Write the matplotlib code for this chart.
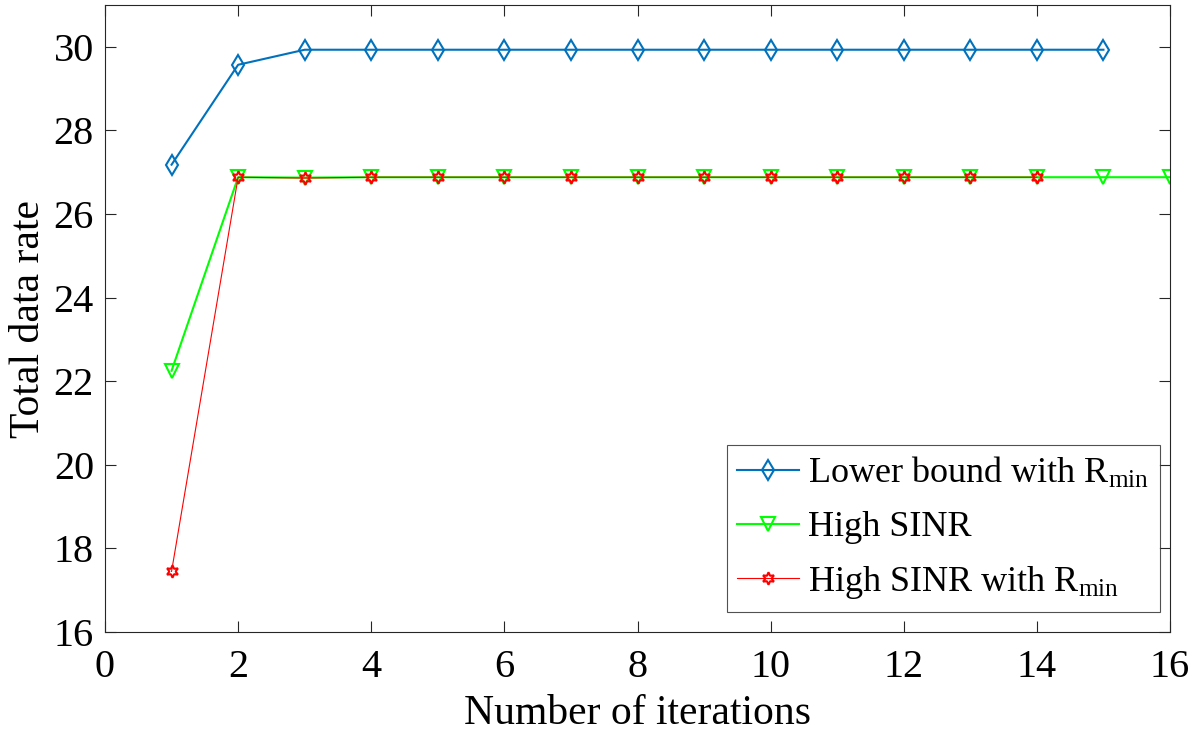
import matplotlib
matplotlib.use("Agg")
import matplotlib.pyplot as plt

plt.rcParams['font.family'] = ['Liberation Serif', 'DejaVu Serif']
plt.rcParams['mathtext.fontset'] = 'custom'
plt.rcParams['mathtext.rm'] = 'Liberation Serif'
plt.rcParams['mathtext.it'] = 'Liberation Serif:italic'

iter_blue = list(range(1, 16))
blue = [27.18, 29.57, 29.93, 29.93, 29.93, 29.93, 29.93, 29.93, 29.93, 29.93, 29.93, 29.93, 29.93, 29.93, 29.93]
iter_green = list(range(1, 17))
green = [22.25, 26.88, 26.87, 26.88, 26.88, 26.88, 26.88, 26.88, 26.88, 26.88, 26.88, 26.88, 26.88, 26.88, 26.88, 26.88]
iter_red = list(range(1, 15))
red = [17.45, 26.88, 26.86, 26.88, 26.88, 26.88, 26.88, 26.88, 26.88, 26.88, 26.88, 26.88, 26.88, 26.88]

labels = [r'Lower bound with R$_{\mathrm{min}}$', 'High SINR', r'High SINR with R$_{\mathrm{min}}$']

fig = plt.figure(figsize=(12.02, 7.36), dpi=100)
ax = fig.add_axes([105/1202, 1-632/736, (1170-105)/1202, (632-5)/736])

ax.plot(iter_blue, blue, color='#0072BD', lw=1.5, marker='d', ms=10, mfc='none', mew=1.5, label=labels[0])
ax.plot(iter_green, green, color='#00FF00', lw=1.5, marker='v', ms=10, mfc='none', mew=1.5, label=labels[1])
ax.plot(iter_red, red, color='#FF0000', lw=0.8, marker=(6, 1, 0), ms=9, mfc='none', mew=1.5, label=labels[2])

ax.set_xlim(0, 16)
ax.set_ylim(16, 31)
ax.set_xticks(range(0, 17, 2))
ax.set_yticks(range(16, 31, 2))
ax.tick_params(direction='in', top=True, right=True, labelsize=29, length=8, color='#262626', width=0.8)
ax.tick_params(axis='x', pad=12)
ax.tick_params(axis='y', pad=8)
for s in ax.spines.values():
    s.set_color('#262626')
    s.set_linewidth(0.8)
ax.set_xlabel('Number of iterations', fontsize=30, labelpad=6)
ax.set_ylabel('Total data rate', fontsize=30, labelpad=4)

leg = ax.legend(loc='lower right', bbox_to_anchor=(0.9906, 0.032), fontsize=26, frameon=True, fancybox=False,
                edgecolor='#262626', handlelength=1.7, borderpad=0.3, labelspacing=0.55, handletextpad=0.25,
                borderaxespad=0)
leg.get_frame().set_linewidth(0.8)

fig.savefig('out.png', dpi=100)
